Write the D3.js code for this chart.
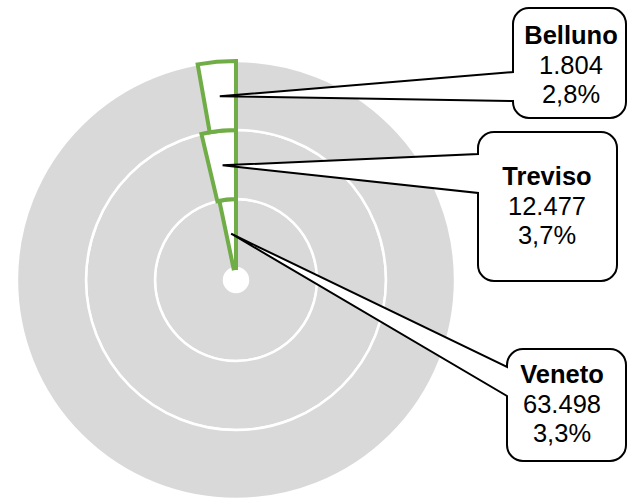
<!DOCTYPE html>
<html>
<head>
<meta charset="utf-8">
<script src="https://cdn.jsdelivr.net/npm/d3@7"></script>
<style>
  html, body { margin: 0; padding: 0; background: #fff; }
  svg { display: block; }
  text { font-family: "Liberation Sans", Arial, sans-serif; fill: #000; }
</style>
</head>
<body>
<svg id="chart" width="628" height="498"></svg>
<script>
// ---- data (inner ring to outer ring) ----
const regions = ["Veneto", "Treviso", "Belluno"];
const values = [63498, 12477, 1804];
const shares = [3.3, 3.7, 2.8]; // percent

// ---- layout ----
const W = 628, H = 498;
const cx = 236, cy = 280;
const boxes = [
  { x0: 507, y0: 349, x1: 626, y1: 461, b0: 367, b1: 396, tx: 562, ty: 383 },
  { x0: 478, y0: 132, x1: 617, y1: 281, b0: 154, b1: 193, tx: 547, ty: 185 },
  { x0: 513, y0: 8,   x1: 626, y1: 118, b0: 72,  b1: 101, tx: 571, ty: 44 }
];
const cornerR = 16;
const lineGap = 29.7;

const it = d3.formatLocale({ decimal: ",", thousands: ".", grouping: [3], currency: ["", "€"] });
const fmtInt = it.format(",d");
const fmtPct = it.format(".1f");

const svg = d3.select("#chart");
const g = svg.append("g").attr("transform", `translate(${cx},${cy})`);

const rScale = d3.scaleLinear().domain([0, regions.length]).range([12, 219]);
const angle = d3.scaleLinear().domain([0, 100]).range([0, 2 * Math.PI]);

const arc = d3.arc();

// grey rings
g.selectAll("path.ring")
  .data(regions)
  .join("path")
  .attr("class", "ring")
  .attr("d", (d, i) => arc({ innerRadius: rScale(i), outerRadius: rScale(i + 1), startAngle: 0, endAngle: 2 * Math.PI }))
  .attr("fill", "#d9d9d9")
  .attr("stroke", "#fff")
  .attr("stroke-width", 2.5);

// highlighted wedges
const wedgeData = regions.map((name, i) => ({
  name, value: values[i], share: shares[i],
  innerRadius: rScale(i), outerRadius: rScale(i + 1),
  startAngle: -angle(shares[i]), endAngle: 0
}));

g.selectAll("path.wedge")
  .data(wedgeData)
  .join("path")
  .attr("class", "wedge")
  .attr("d", d => arc(d))
  .attr("fill", "#fff")
  .attr("stroke", "#70ad47")
  .attr("stroke-width", 4)
  .attr("stroke-linejoin", "miter");

// callouts
function calloutPath(b, tip) {
  const r = cornerR;
  return [
    `M${b.x0 + r},${b.y0}`,
    `H${b.x1 - r}`,
    `A${r},${r} 0 0 1 ${b.x1},${b.y0 + r}`,
    `V${b.y1 - r}`,
    `A${r},${r} 0 0 1 ${b.x1 - r},${b.y1}`,
    `H${b.x0 + r}`,
    `A${r},${r} 0 0 1 ${b.x0},${b.y1 - r}`,
    `V${b.b1}`,
    `L${tip[0]},${tip[1]}`,
    `L${b.x0},${b.b0}`,
    `V${b.y0 + r}`,
    `A${r},${r} 0 0 1 ${b.x0 + r},${b.y0}`,
    "Z"
  ].join(" ");
}

const callouts = svg.append("g");
wedgeData.forEach((d, i) => {
  const c = arc.centroid(d);
  const tip = [cx + c[0], cy + c[1]];
  const b = boxes[i];
  callouts.append("path")
    .attr("d", calloutPath(b, tip))
    .attr("fill", "#fff")
    .attr("stroke", "#000")
    .attr("stroke-width", 2)
    .attr("stroke-linejoin", "miter");
  const lines = [d.name, fmtInt(d.value), fmtPct(d.share) + "%"];
  const t = callouts.append("text")
    .attr("text-anchor", "middle")
    .attr("font-size", 25.5);
  lines.forEach((s, k) => {
    t.append("tspan")
      .attr("x", b.tx)
      .attr("y", b.ty + k * lineGap)
      .attr("font-weight", k === 0 ? "bold" : "normal")
      .text(s);
  });
});
</script>
</body>
</html>
